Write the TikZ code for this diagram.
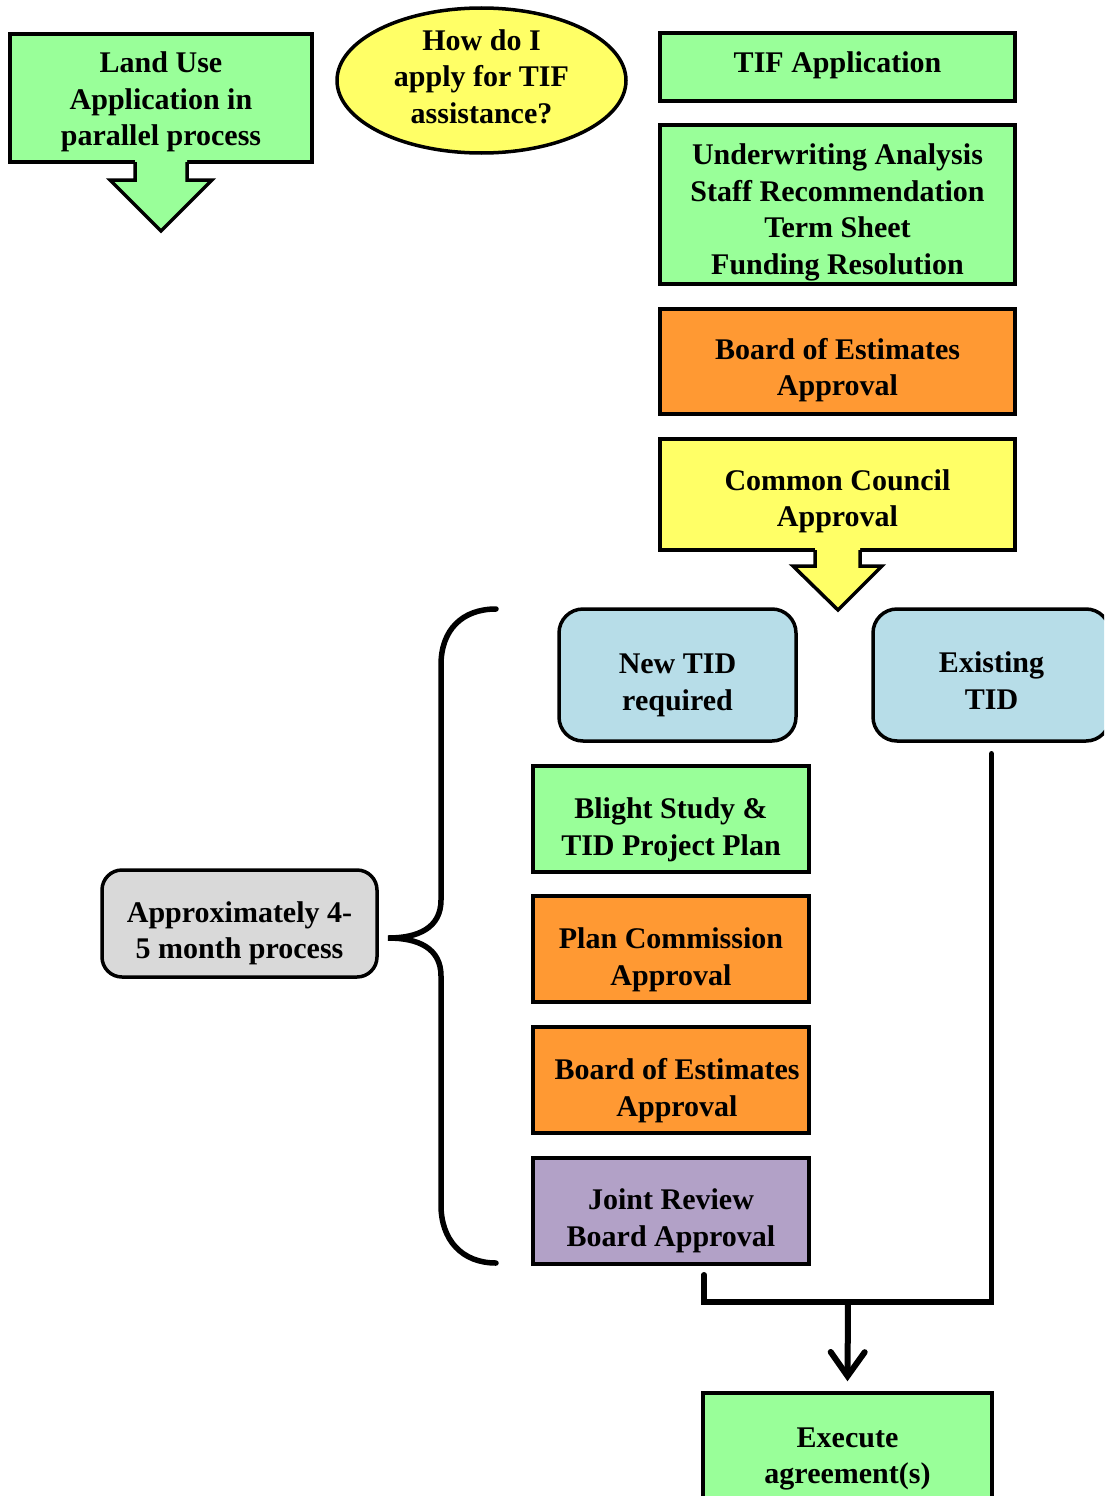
\documentclass[tikz,border=0pt]{standalone}
\usepackage{fontspec}
\setmainfont{Liberation Serif}
\usetikzlibrary{shapes.geometric,arrows.meta,calc}
\definecolor{cgreen}{HTML}{99FF99}
\definecolor{cyellow}{HTML}{FFFF66}
\definecolor{corange}{HTML}{FF9933}
\definecolor{cblue}{HTML}{B7DDE8}
\definecolor{cpurple}{HTML}{B2A1C7}
\definecolor{cgray}{HTML}{D9D9D9}
\newcommand\myfls[1]{\rule{0pt}{#1pt}}
\begin{document}
\begin{tikzpicture}[x=1pt,y=-1pt,
  txt/.style={font=\bfseries\fontsize{30}{36.5}\selectfont, align=center, inner sep=0pt},
  box/.style={txt, draw, line width=3.5pt, rectangle},
  rbox/.style={box, rounded corners=24pt},
  ld/.style={execute at end node={\rule[-#1pt]{0pt}{#1pt}}},
  blockarrow/.style={draw, line width=3.5pt, line join=miter},
  conn/.style={draw, line width=5.5pt, line cap=round, line join=miter}]
\useasboundingbox (0,0) rectangle (1104,1496);
\clip (0,0) rectangle (1104,1496);
\fill[white] (0,0) rectangle (1104,1496);

% top left
\node[box, fill=cgreen, minimum width=302pt, minimum height=128pt] (land) at (161,98) {\myfls{28.4}Land Use\\Application in\\parallel process};
\fill[cgreen] (135,160) -- (135,180) -- (110,180) -- (161,231) -- (212,180) -- (187,180) -- (187,160) -- cycle;
\draw[blockarrow] (135,162) -- (135,180) -- (110,180) -- (161,231) -- (212,180) -- (187,180) -- (187,162);

\node[txt, ld=8, draw, line width=3.5pt, ellipse, fill=cyellow, minimum width=289pt, minimum height=145pt] (q) at (481.5,80.5) {How do I\\apply for TIF\\assistance?};

% right column
\node[box, ld=10.5, fill=cgreen, minimum width=355pt, minimum height=68pt] (tifapp) at (837.5,67) {TIF Application};
\node[box, fill=cgreen, minimum width=355pt, minimum height=159pt] (uw) at (837.5,204.5) {\myfls{36.4}Underwriting Analysis\\Staff Recommendation\\Term Sheet\\Funding Resolution};
\node[box, fill=corange, minimum width=355pt, minimum height=105pt] (boe1) at (837.5,361.5) {\myfls{38.4}Board of Estimates\\Approval};
\node[box, fill=cyellow, minimum width=355pt, minimum height=111pt] (cc) at (837.5,494.5) {\myfls{34.4}Common Council\\Approval};
\fill[cyellow] (815,548) -- (815,566) -- (793,566) -- (838,610) -- (882,566) -- (860,566) -- (860,548) -- cycle;
\draw[blockarrow] (815,550) -- (815,566) -- (793,566) -- (838,610) -- (882,566) -- (860,566) -- (860,550);

% TID boxes
\node[rbox, fill=cblue, minimum width=237pt, minimum height=132pt] (newtid) at (677.5,675) {\myfls{40.4}New TID\\required};
\node[rbox, fill=cblue, minimum width=237pt, minimum height=132pt] (etid) at (991.5,675) {\myfls{32.4}Existing\\TID};

\node[box, fill=cgreen, minimum width=276pt, minimum height=106pt] (blight) at (671,819) {\myfls{42.4}Blight Study \&\\TID Project Plan};
\node[box, fill=corange, minimum width=276pt, minimum height=106pt] (plan) at (671,949) {\myfls{42.4}Plan Commission\\Approval};
\node[box, fill=corange, minimum width=276pt, minimum height=106pt] (boe2) at (671,1080) {\myfls{42.4}\hspace*{12pt}Board of Estimates\\\hspace*{12pt}Approval};
\node[box, fill=cpurple, minimum width=276pt, minimum height=106pt] (jrb) at (671,1211) {\myfls{40.4}Joint Review\\Board Approval};

% left label and brace
\node[rbox, rounded corners=20pt, fill=cgray, minimum width=275pt, minimum height=107pt] (approx) at (239.5,923.5) {\myfls{40.4}Approximately 4-\\5 month process};
\coordinate (bracetip) at (388,938);
\draw[conn, line cap=round] (496,609) .. controls (462,609) and (441,630) .. (441,665) -- (441,900)
  .. controls (441,928) and (418,938) .. (bracetip)
  .. controls (418,938) and (441,948) .. (441,976) -- (441,1205)
  .. controls (441,1240) and (462,1263) .. (496,1263);

% bottom
\node[box, fill=cgreen, minimum width=289pt, minimum height=107pt] (exe) at (847.5,1446.5) {\myfls{44.4}Execute\\agreement(s)};
\coordinate (join) at (848,1302);
\draw[conn] ($(jrb.south)+(33,9)$) |- (join) -| ($(etid.south)+(0,11)$);
\draw[conn, line width=6pt, -{Straight Barb[length=24pt,width=34pt,line cap=round]}] (join) -- ($(exe.north)+(0,-10)$);
\end{tikzpicture}
\end{document}
